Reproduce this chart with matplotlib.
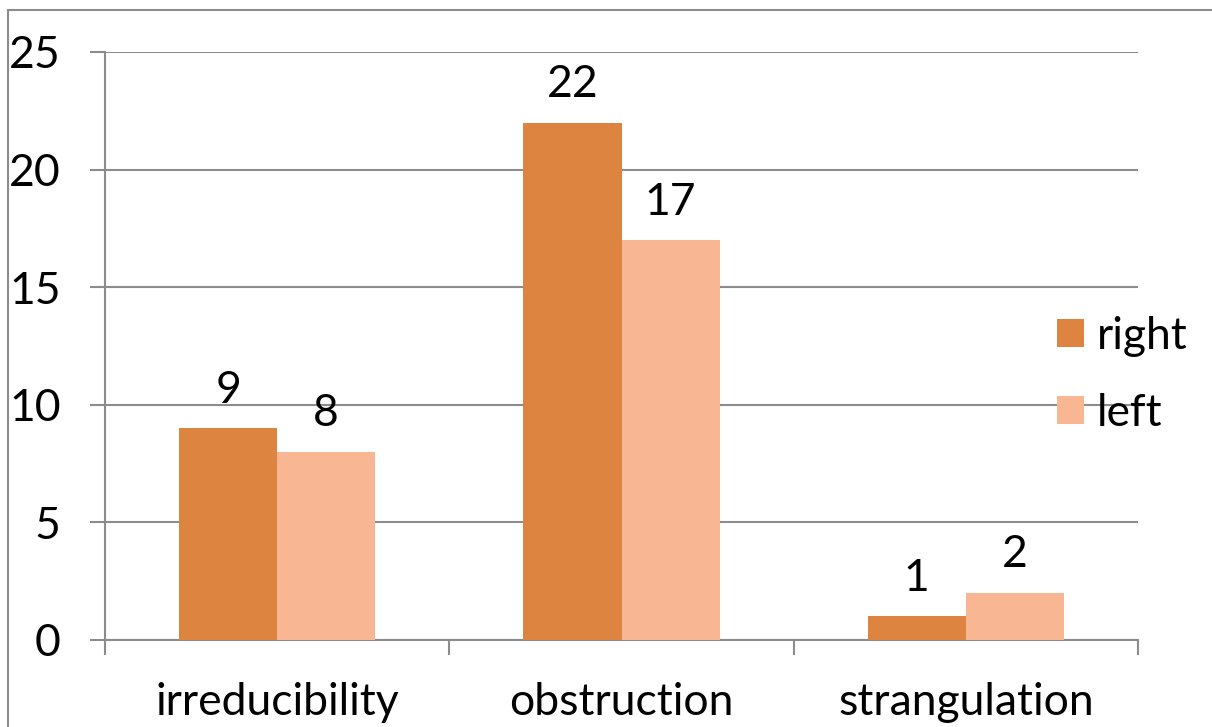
import matplotlib.pyplot as plt
import numpy as np
from matplotlib.patches import Rectangle

plt.rcParams['font.family'] = ['Lato', 'DejaVu Sans']

categories = ['irreducibility', 'obstruction', 'strangulation']
right_vals = [9, 22, 1]
left_vals = [8, 17, 2]
yticks = [0, 5, 10, 15, 20, 25]

c_right = '#DC8440'
c_left = '#F8B692'
grid_c = '#8C8C8C'
fs = 32

W, H = 1212, 727
fig = plt.figure(figsize=(W / 100, H / 100), dpi=100)
ax = fig.add_axes([105 / W, 1 - 640 / H, (1138 - 105) / W, (640 - 52) / H])

x = np.arange(len(categories))
bw = 0.285
b1 = ax.bar(x - bw / 2, right_vals, bw, color=c_right, label='right', zorder=3)
b2 = ax.bar(x + bw / 2, left_vals, bw, color=c_left, label='left', zorder=3)

for bars, vals in [(b1, right_vals), (b2, left_vals)]:
    for b, v in zip(bars, vals):
        ax.text(b.get_x() + b.get_width() / 2, v + 0.75, str(v), ha='center', va='bottom',
                fontsize=fs)

ax.set_xlim(-0.5, len(categories) - 0.5)
ax.set_ylim(0, 25)
ax.set_yticks(yticks)
ax.set_yticklabels([str(t) for t in yticks], fontsize=fs)
ax.yaxis.grid(True, color=grid_c, linewidth=1.5, zorder=0)
ax.tick_params(axis='y', length=11, width=1.5, color=grid_c, pad=21)

ax.set_xticks(x)
ax.set_xticklabels(categories, fontsize=fs)
ax.tick_params(axis='x', length=0, pad=30)
# category boundary ticks
ax.set_xticks(np.arange(len(categories) + 1) - 0.5, minor=True)
ax.tick_params(axis='x', which='minor', length=11, width=1.5, color=grid_c)

for s in ['top', 'right']:
    ax.spines[s].set_visible(False)
for s in ['left', 'bottom']:
    ax.spines[s].set_color(grid_c)
    ax.spines[s].set_linewidth(1.5)

leg = fig.legend(loc='upper left', bbox_to_anchor=(1057 / W, 1 - 316 / H), frameon=False,
                 fontsize=fs, handlelength=0.6, handleheight=0.6, handletextpad=0.3,
                 labelspacing=0.8, borderpad=0, borderaxespad=0)

# outer chart border (left and top)
fig.add_artist(Rectangle((8 / W, -0.1), 1.2, 1 - 10 / H + 0.1, transform=fig.transFigure,
                         fill=False, edgecolor=grid_c, linewidth=1.5))

fig.savefig('out.png', dpi=100)
